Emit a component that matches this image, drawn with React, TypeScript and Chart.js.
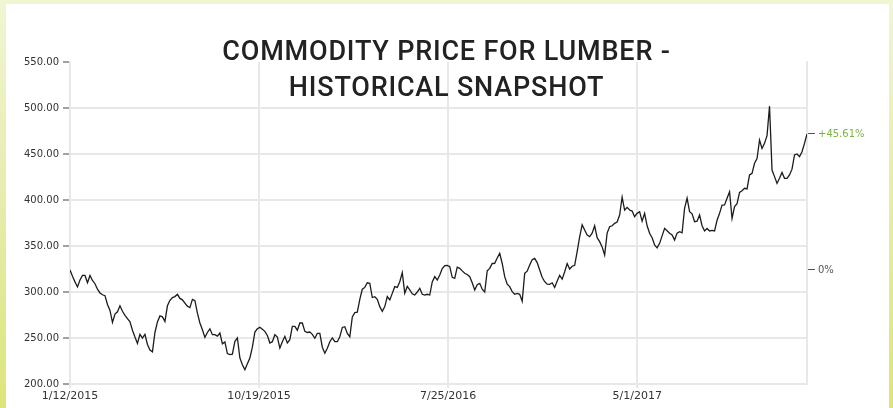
import React, { useEffect, useRef } from "react";
import { Chart, registerables } from "chart.js";

Chart.register(...registerables);

// ---- text ----
const TITLE_LINES = ["COMMODITY PRICE FOR LUMBER -", "HISTORICAL SNAPSHOT"];
const X_TICK_DAYS = [0, 280, 560, 840];
const X_TICK_LABELS = ["1/12/2015", "10/19/2015", "7/25/2016", "5/1/2017"];
const Y_MIN = 200;
const Y_MAX = 550;
const Y_STEP = 50;

// ---- data: lumber price, sampled every SAMPLE_DAYS days from 1/12/2015 ----
const SAMPLE_DAYS = 3.7;
const pricesEarly2015 = [
  324, 317, 311, 305.5, 313, 318, 318, 310, 318, 312.5, 309, 303, 299, 297, 296, 286.5,
  280, 267, 276, 278.5, 285, 279, 274.5, 271, 267.5, 258.5, 251, 244, 254, 250, 254, 243,
  237, 235, 256, 267.5, 274, 273, 268, 285, 291, 294, 295, 297.5, 293, 291.5, 288, 284.5, 283,
];
const pricesLate2015 = [
  292, 290.6, 277, 266.3, 259, 250.7, 256, 260, 253.6, 253.6, 252, 255.4, 243.7, 245.7, 233,
  231.9, 232.5, 246.4, 250, 228.3, 221, 215.6, 222, 228.3, 240, 256.5, 260, 261.6, 259.5, 257.2,
  252.7, 244.6, 246, 253.6, 251, 239.1, 246, 251.8, 244.6, 248.2, 262.7, 262.7, 258.5, 266.3,
  266.3, 257.2, 256, 256.5,
];
const pricesEarly2016 = [
  254, 249.7, 255, 255, 240, 233.4, 238.8, 246, 250, 246, 246, 251.4, 261.5, 262.3, 255, 251.4,
  273, 277.6, 278, 292, 303, 305, 310, 309.4, 294, 294.9, 292, 284.1, 279, 284.1, 295, 291.3,
  298.5, 305.8, 305, 311.2, 321, 298.6, 306, 302.2, 298, 296.7, 300, 304, 297.5, 296.7, 297.5,
  296.7,
];
const pricesLate2016 = [
  311, 316.7, 313, 318.5, 325.5, 328.6, 329, 327.5, 316, 314.9, 327, 325.7, 323, 320.3, 319,
  316.7, 310, 302.2, 308, 309.4, 303, 300, 323, 325.7, 331, 331.2, 337, 342, 331, 316.7, 308.5,
  305.8, 300.4, 297.5, 298.5, 297.5, 290, 320.3, 322.6, 329.3, 335, 336.6, 332, 323.9, 316,
  311.2, 308.5, 308.3,
];
const pricesEarly2017 = [
  310, 305, 312, 318, 314, 322, 331, 325, 328, 329, 344, 360, 373, 367.4, 362, 360.1, 364, 372,
  359, 354.7, 349, 340.2, 364, 371, 372, 374.6, 376, 383.7, 403, 389.1, 392, 389.1, 388, 381.9,
  385.5, 387.3, 377, 385.5, 372, 363.8, 359, 351.1, 348, 352.9, 361, 369.2, 366.5, 363.8,
];
const pricesLate2017 = [
  362, 356.5, 364, 365.6, 364.4, 390.9, 402, 387.3, 385, 376.4, 377, 383.7, 372, 366.3, 369,
  366.3, 367, 366.3, 378, 385.5, 394.5, 394.6, 402, 409, 380, 392.8, 396, 408.3, 410, 412.7, 412,
  427.2, 429, 439.9, 445, 465.2, 456, 461.6, 470, 502, 432.6, 425.4, 418, 423.6, 430, 423.6,
  423.5, 427.2, 433.5, 448.9, 450, 447.1, 452.5, 461.6, 471.78,
];

const PRICES = [
  ...pricesEarly2015,
  ...pricesLate2015,
  ...pricesEarly2016,
  ...pricesLate2016,
  ...pricesEarly2017,
  ...pricesLate2017,
];

const GRID = "#e8e8e8";
const LABEL = "#333333";
const GREEN = "#7cb342";

const titlePlugin = {
  id: "snapshotTitle",
  afterDraw(chart: any) {
    const ctx = chart.ctx as CanvasRenderingContext2D;
    ctx.save();
    ctx.font = "500 27px Roboto";
    (ctx as any).letterSpacing = "0.8px";
    ctx.fillStyle = "#222222";
    ctx.textAlign = "center";
    ctx.textBaseline = "alphabetic";
    const cx = chart.width / 2;
    ctx.fillText(TITLE_LINES[0], cx, 60);
    ctx.fillText(TITLE_LINES[1], cx, 96);
    ctx.restore();
  },
};

export default function App() {
  const ref = useRef<HTMLCanvasElement | null>(null);

  useEffect(() => {
    if (!ref.current) return;
    const base = PRICES[0];
    const last = PRICES[PRICES.length - 1];
    const pct = (v: number) => {
      const p = (v / base - 1) * 100;
      if (Math.abs(p) < 0.005) return "0%";
      return (p > 0 ? "+" : "") + p.toFixed(2) + "%";
    };
    const points = PRICES.map((v, i) => ({ x: i * SAMPLE_DAYS, y: v }));
    const chart = new Chart(ref.current, {
      type: "line",
      data: {
        datasets: [
          {
            data: points as any,
            borderColor: "#1c1c1c",
            borderWidth: 1.3,
            pointRadius: 0,
            tension: 0,
            fill: false,
          },
        ],
      },
      options: {
        animation: false,
        responsive: false,
        devicePixelRatio: 1,
        events: [],
        layout: { padding: { top: 62, left: 0, right: 0, bottom: 0 } },
        plugins: {
          legend: { display: false },
          tooltip: { enabled: false },
          title: { display: false },
        },
        scales: {
          x: {
            type: "linear",
            min: 0,
            max: (PRICES.length - 1) * SAMPLE_DAYS,
            afterBuildTicks: (s: any) => {
              s.ticks = X_TICK_DAYS.map((v) => ({ value: v }));
            },
            afterFit: (s: any) => {
              s.height = 24;
            },
            ticks: {
              autoSkip: false,
              maxRotation: 0,
              color: LABEL,
              padding: 2,
              font: { family: "DejaVu Sans", size: 11 },
              callback: (_v: any, i: number) => X_TICK_LABELS[i],
            },
            grid: { color: GRID, lineWidth: 2, tickLength: 4, tickColor: GRID },
            border: { color: GRID, width: 2 },
          },
          y: {
            position: "left",
            min: Y_MIN,
            max: Y_MAX,
            afterFit: (s: any) => {
              s.width = 70;
            },
            ticks: {
              stepSize: Y_STEP,
              color: LABEL,
              padding: 4,
              font: { family: "DejaVu Sans", size: 10 },
              callback: (v: any) => Number(v).toFixed(2),
            },
            grid: {
              color: (c: any) => (c.tick && c.tick.value === Y_MAX ? "rgba(0,0,0,0)" : GRID),
              lineWidth: 2,
              tickLength: 7,
              tickColor: "#444444",
              tickWidth: 1,
            },
            border: { color: GRID, width: 2 },
          },
          y2: {
            position: "right",
            min: Y_MIN,
            max: Y_MAX,
            afterBuildTicks: (s: any) => {
              s.ticks = [{ value: base }, { value: last }];
            },
            afterFit: (s: any) => {
              s.width = 86;
            },
            ticks: {
              color: (c: any) => (c.index === 1 ? GREEN : "#555555"),
              padding: 3,
              font: { family: "DejaVu Sans", size: 10 },
              callback: (v: any) => pct(Number(v)),
            },
            grid: {
              drawOnChartArea: false,
              tickLength: 8,
              tickColor: "#555555",
              tickWidth: 1,
            },
            border: { color: GRID, width: 2 },
          },
        },
      } as any,
      plugins: [titlePlugin],
    });
    return () => chart.destroy();
  }, []);

  return (
    <div
      style={{
        position: "absolute",
        left: 0,
        top: 0,
        width: 893,
        height: 408,
        background: "linear-gradient(to bottom, #f1f5d3 0%, #e6ecaa 50%, #dce579 100%)",
        overflow: "hidden",
      }}
    >
      <div
        style={{
          position: "absolute",
          left: 6,
          top: 4,
          width: 883,
          height: 404,
          background: "#ffffff",
        }}
      />
      <canvas
        ref={ref}
        width={893}
        height={408}
        style={{ position: "absolute", left: 0, top: 0, width: 893, height: 408 }}
      />
    </div>
  );
}
